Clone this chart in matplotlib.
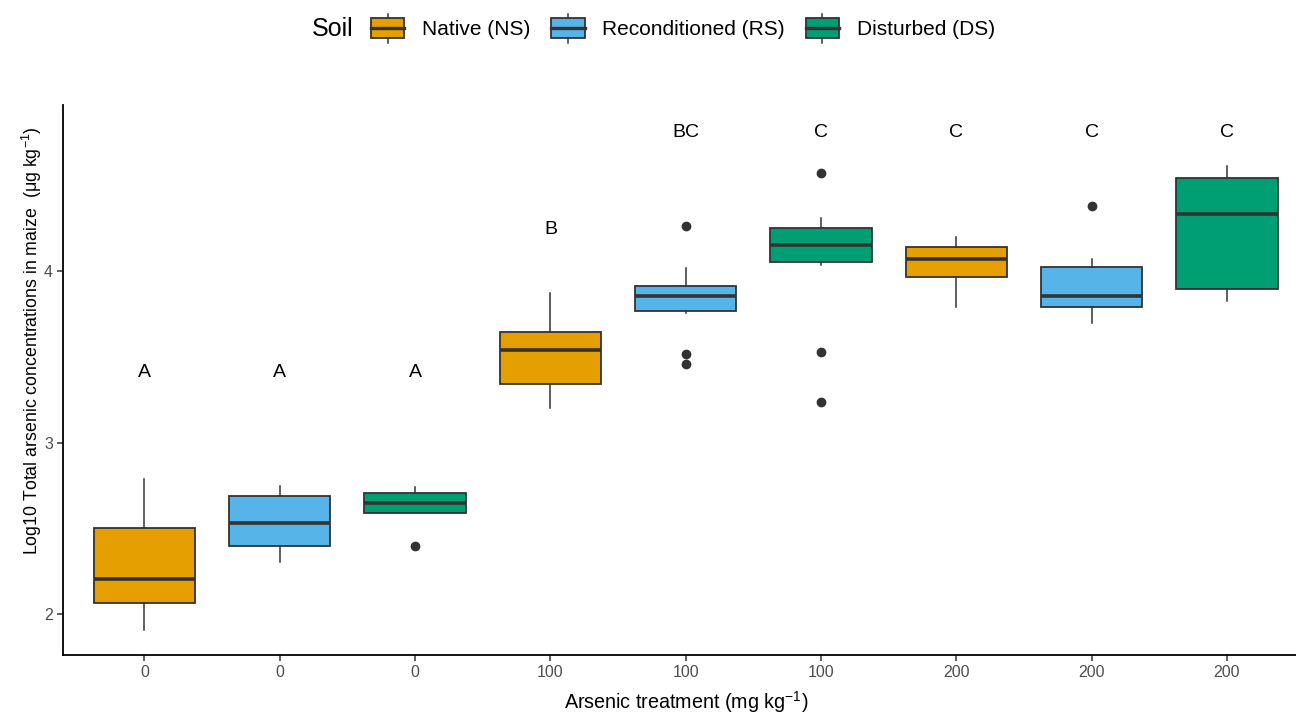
import matplotlib
matplotlib.use("Agg")
import matplotlib.pyplot as plt
from matplotlib.patches import Rectangle
from matplotlib.lines import Line2D
from matplotlib.legend_handler import HandlerBase
from matplotlib.offsetbox import HPacker

plt.rcParams['font.family'] = ['Liberation Sans', 'DejaVu Sans']
plt.rcParams['mathtext.fontset'] = 'custom'
plt.rcParams['mathtext.rm'] = 'Liberation Sans'

# ---- data ----
soils = ["Native (NS)", "Reconditioned (RS)", "Disturbed (DS)"]
soil_colors = ["#E69F00", "#56B4E9", "#009E73"]
tick_labels = ["0", "0", "0", "100", "100", "100", "200", "200", "200"]
group_soil = [0, 1, 2, 0, 1, 2, 0, 1, 2]
whislo = [1.907, 2.305, 2.591, 3.203, 3.753, 4.035, 3.792, 3.695, 3.825]
q1 = [2.064, 2.398, 2.591, 3.339, 3.767, 4.054, 3.967, 3.788, 3.895]
med = [2.206, 2.529, 2.649, 3.539, 3.854, 4.153, 4.070, 3.854, 4.331]
q3 = [2.500, 2.690, 2.705, 3.646, 3.914, 4.249, 4.142, 4.023, 4.544]
whishi = [2.785, 2.746, 2.742, 3.873, 4.019, 4.307, 4.196, 4.068, 4.612]
fliers = [[], [], [2.398], [], [4.264, 3.514, 3.458], [4.570, 3.530, 3.236], [], [4.377], []]
letters = ["A", "A", "A", "B", "BC", "C", "C", "C", "C"]
letter_y = [3.41, 3.41, 3.41, 4.24, 4.81, 4.81, 4.81, 4.81, 4.81]

fig = plt.figure(figsize=(12.96, 7.14), dpi=100)
ax = fig.add_axes([0.0488, 0.0826, 0.9512, 0.7704])

stats = []
for i in range(len(med)):
    stats.append(dict(med=med[i], q1=q1[i], q3=q3[i], whislo=whislo[i],
                      whishi=whishi[i], fliers=fliers[i]))

edge = "#333333"
bp = ax.bxp(stats, positions=list(range(len(med))), widths=0.75,
            showcaps=False, patch_artist=True,
            boxprops=dict(edgecolor=edge, linewidth=1.3),
            medianprops=dict(color=edge, linewidth=2.6, solid_capstyle='butt'),
            whiskerprops=dict(color=edge, linewidth=1.1),
            flierprops=dict(marker='o', markerfacecolor=edge, markeredgecolor=edge,
                            markersize=6))
for patch, g in zip(bp['boxes'], group_soil):
    patch.set_facecolor(soil_colors[g])

for i, (lab, yv) in enumerate(zip(letters, letter_y)):
    ax.text(i, yv, lab, ha='center', va='center', fontsize=14, color='black')

ax.set_xlim(-0.6, 8.51)
ax.set_ylim(1.761, 4.968)
ax.set_yticks([2, 3, 4])
ax.set_yticklabels(["2", "3", "4"])
ax.set_xticks(range(len(tick_labels)))
ax.set_xticklabels(tick_labels)
ax.tick_params(axis='both', colors='#333333', labelcolor='#4D4D4D',
               labelsize=11.5, length=4, width=1.1, direction='out')
for s in ['top', 'right']:
    ax.spines[s].set_visible(False)
for s in ['left', 'bottom']:
    ax.spines[s].set_linewidth(1.3)
    ax.spines[s].set_color('black')

ax.set_xlabel("Arsenic treatment (mg kg$^{-1}$)", fontsize=14.2)
ax.xaxis.set_label_coords(0.505, -0.062)
ax.set_ylabel("Log10 Total arsenic concentrations in maize  (μg kg$^{-1}$)",
              fontsize=12.8)
ax.yaxis.set_label_coords(-0.016, 0.571)


class BoxHandler(HandlerBase):
    def __init__(self, color):
        super().__init__()
        self.color = color

    def create_artists(self, legend, orig_handle, xdescent, ydescent, width, height,
                       fontsize, trans):
        bw = width
        x0 = -xdescent
        y0 = -ydescent
        r = Rectangle((x0, y0), bw, height, facecolor=self.color,
                      edgecolor=edge, linewidth=1.3, transform=trans)
        m = Line2D([x0, x0 + bw], [y0 + height * 0.5] * 2, color=edge, lw=2.4,
                   transform=trans)
        cx = x0 + bw / 2
        w1 = Line2D([cx, cx], [y0 + height, y0 + height * 1.2], color=edge, lw=1.1,
                    transform=trans)
        w2 = Line2D([cx, cx], [y0, y0 - height * 0.3], color=edge, lw=1.1,
                    transform=trans)
        return [r, m, w1, w2]


handles = [Rectangle((0, 0), 1, 1) for _ in soils]
hmap = {h: BoxHandler(c) for h, c in zip(handles, soil_colors)}
leg = fig.legend(handles, soils, handler_map=hmap, loc='center', ncol=3,
                 bbox_to_anchor=(0.504, 0.960), frameon=False, fontsize=15,
                 title="Soil", title_fontsize=18, handlelength=1.6, handleheight=1.06,
                 columnspacing=1.0, handletextpad=0.85)
title_box = leg._legend_title_box
handle_box = leg._legend_handle_box
new = HPacker(pad=0, sep=13, children=[title_box, handle_box], align="center")
leg._legend_box._children = [new]

fig.savefig("out.png", dpi=100)
